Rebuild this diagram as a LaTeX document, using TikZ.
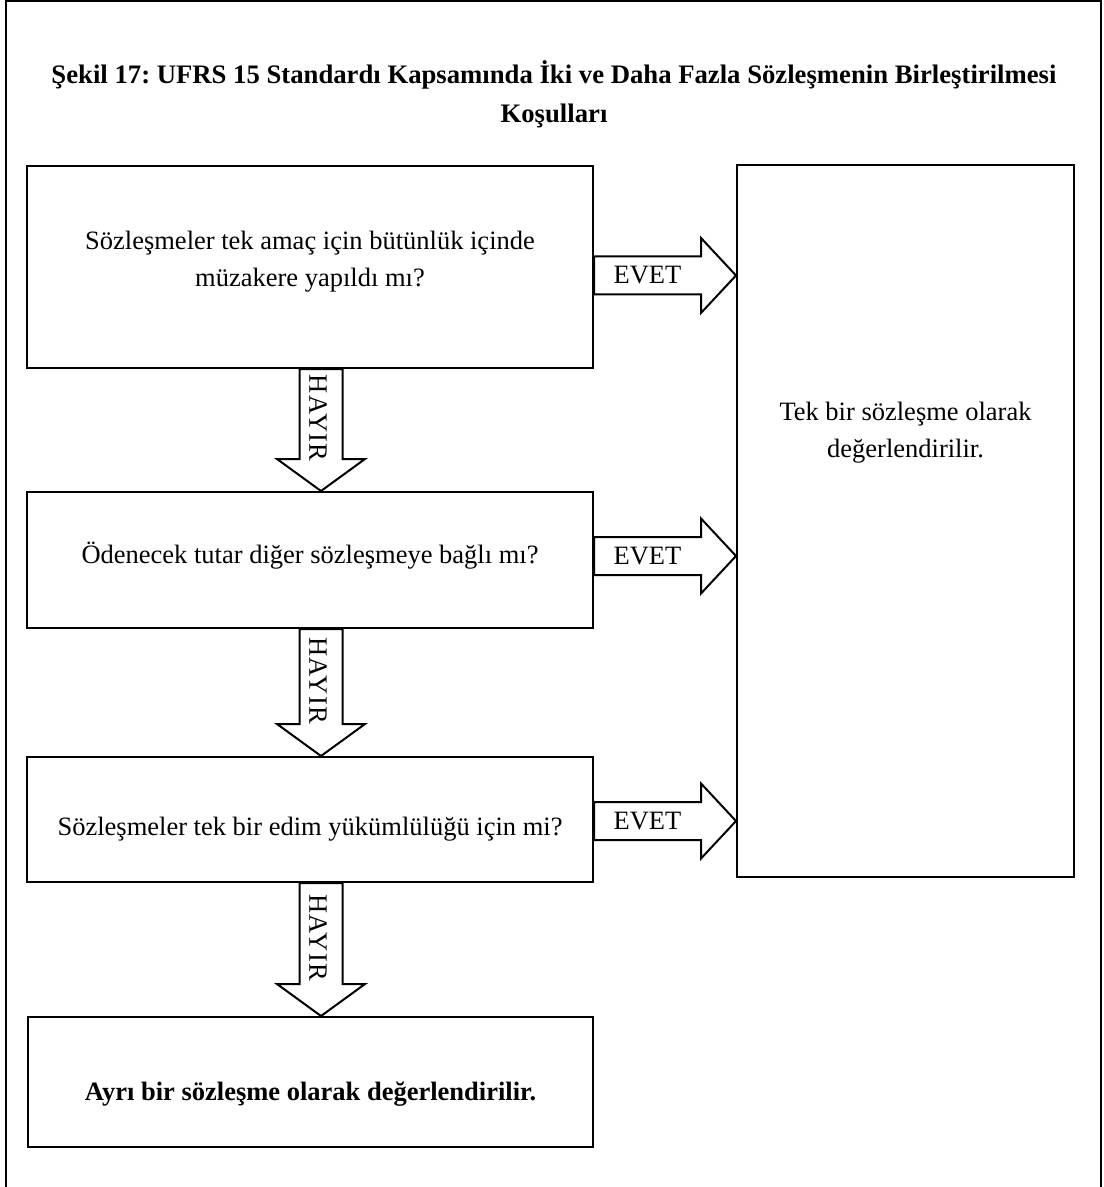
\documentclass[tikz,border=0pt]{standalone}
\usepackage{fontspec}
\setmainfont{Liberation Serif}
\frenchspacing
\usetikzlibrary{calc}

% block arrow pointing right, from a point on a box edge to the left edge of another node
\newcommand\yesarrow[3]{%
  \draw[blk] let \p1=(#1), \p2=(#2) in
    (\x1,\y1+9.5pt) -- (\x2-17.5pt,\y1+9.5pt) -- (\x2-17.5pt,\y1+18.75pt) -- (\x2,\y1)
    -- (\x2-17.5pt,\y1-18.75pt) -- (\x2-17.5pt,\y1-9.5pt) -- (\x1,\y1-9.5pt) -- cycle
    node[lbl] at ({(\x1+\x2-17.5pt)/2},\y1) {#3};}

% block arrow pointing down, from a point on a box bottom to the top of the next box
\newcommand\noarrow[3]{%
  \draw[blk] let \p1=(#1), \p2=(#2) in
    (\x1-10.75pt,\y1) -- (\x1-10.75pt,\y2+16pt) -- (\x1-22pt,\y2+16pt) -- (\x1,\y2)
    -- (\x1+22pt,\y2+16pt) -- (\x1+10.75pt,\y2+16pt) -- (\x1+10.75pt,\y1) -- cycle
    node[lbl,rotate=-90,font=\fontsize{13.25}{16}\selectfont\addfontfeature{LetterSpace=5}]
      at (\x1-1.5pt,{(\y1+\y2+16pt)/2-2pt}) {#3};}

\begin{document}
\begin{tikzpicture}[x=0.5pt,y=-0.5pt,
  box/.style={draw,line width=1pt,inner sep=0pt},
  txt/.style={font=\fontsize{13.25}{18.5}\selectfont,align=center,inner sep=0pt},
  lbl/.style={font=\fontsize{13.25}{16}\selectfont,inner sep=0pt},
  blk/.style={draw,line width=1pt,line join=miter},
  ttl/.style={font=\bfseries\fontsize{13.35}{16}\selectfont,inner sep=0pt,anchor=base}]
\useasboundingbox (0,0) rectangle (1103,1187);
\fill[white] (0,0) rectangle (1103,1187);

% page frame (open at the bottom)
\draw[line width=1pt] (6,1187) -- (6,1) -- (1101,1) -- (1101,1187);

% caption
\node[ttl] (title1) at (554,84) {Şekil 17: UFRS 15 Standardı Kapsamında İki ve Daha Fazla Sözleşmenin Birleştirilmesi};
\node[ttl] (title2) at (554,123) {Koşulları};

% boxes
\node[box,minimum width=283pt,minimum height=101pt] (q1) at (310,267) {};
\node[box,minimum width=283pt,minimum height=68pt] (q2) at (310,560) {};
\node[box,minimum width=283pt,minimum height=62.5pt] (q3) at (310,819.5) {};
\node[box,minimum width=282.5pt,minimum height=65pt] (sep) at (310.5,1082) {};
\node[box,minimum width=168.5pt,minimum height=356pt] (res) at (905.5,521) {};

% box texts
\node[txt] (q1t) at ([yshift=2.75pt]q1.center) {Sözleşmeler tek amaç için bütünlük içinde\\müzakere yapıldı mı?};
\node[txt] (q2t) at ([yshift=2pt]q2.center) {Ödenecek tutar diğer sözleşmeye bağlı mı?};
\node[txt] (q3t) at ([yshift=-5pt]q3.center) {Sözleşmeler tek bir edim yükümlülüğü için mi?};
\node[txt,font=\bfseries\fontsize{13.25}{18.5}\selectfont] (sept) at ([yshift=-6pt]sep.center) {Ayrı bir sözleşme olarak değerlendirilir.};
\node[txt] (rest) at ([yshift=44pt]res.center) {Tek bir sözleşme olarak\\değerlendirilir.};

% EVET arrows
\yesarrow{[yshift=-4.25pt]q1.east}{res.west}{EVET}
\yesarrow{[yshift=2pt]q2.east}{res.west}{EVET}
\yesarrow{[yshift=-0.75pt]q3.east}{res.west}{EVET}

% HAYIR arrows
\noarrow{[xshift=5.5pt]q1.south}{q2.north}{HAYIR}
\noarrow{[xshift=5.5pt]q2.south}{q3.north}{HAYIR}
\noarrow{[xshift=5.5pt]q3.south}{sep.north}{HAYIR}
\end{tikzpicture}
\end{document}
